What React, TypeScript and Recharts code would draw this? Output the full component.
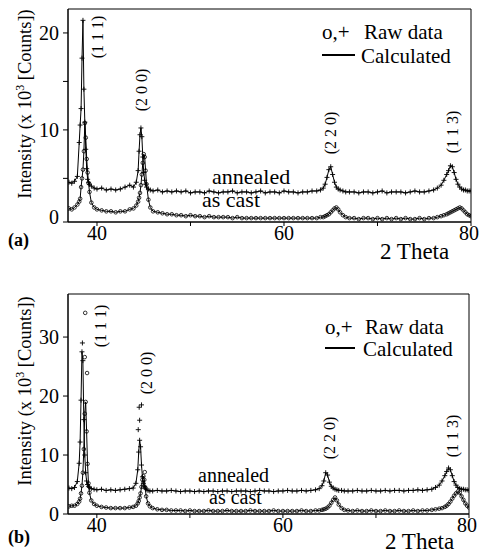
import { ComposedChart, Line, XAxis, YAxis, ReferenceArea } from 'recharts';

// 2 theta grid shared by every series (denser around the peaks)
const theta = [
  37.0, 37.3, 37.6, 37.9, 38.1, 38.2, 38.3, 38.4, 38.5, 38.6,
  38.7, 38.8, 38.9, 39.0, 39.1, 39.2, 39.4, 39.7, 40.0, 40.5,
  41.0, 41.5, 42.0, 42.5, 43.0, 43.5, 43.9, 44.2, 44.4, 44.5,
  44.6, 44.7, 44.8, 44.9, 45.0, 45.1, 45.2, 45.3, 45.5, 45.7,
  46.0, 46.5, 47.0, 47.5, 48.0, 48.5, 49.0, 49.5, 50.0, 50.5,
  51.0, 51.5, 52.0, 52.5, 53.0, 53.5, 54.0, 54.5, 55.0, 55.5,
  56.0, 56.5, 57.0, 57.5, 58.0, 58.5, 59.0, 59.5, 60.0, 60.5,
  61.0, 61.5, 62.0, 62.5, 63.0, 63.5, 63.9, 64.2, 64.4, 64.6,
  64.8, 65.0, 65.2, 65.4, 65.6, 65.8, 66.0, 66.3, 66.6, 67.0,
  67.5, 68.0, 68.5, 69.0, 69.5, 70.0, 70.5, 71.0, 71.5, 72.0,
  72.5, 73.0, 73.5, 74.0, 74.5, 75.0, 75.5, 76.0, 76.4, 76.8,
  77.1, 77.4, 77.6, 77.8, 78.0, 78.2, 78.4, 78.6, 78.8, 79.0,
  79.2, 79.4, 79.6, 79.8, 80.0,
];

// panel (a)
const annealedA = [
  4.6, 4.5, 4.7, 5.2, 8.7, 10.5, 12.2, 17.4, 21.3, 14.2,
  10.8, 8.0, 6.0, 4.9, 4.6, 4.4, 4.2, 4.0, 3.9, 4.0,
  3.8, 3.9, 3.8, 3.9, 4.1, 4.3, 4.1, 4.6, 5.8, 7.8,
  9.5, 10.2, 9.3, 7.2, 5.6, 4.8, 4.4, 4.1, 3.9, 3.8,
  3.7, 3.8, 3.6, 3.7, 3.6, 3.7, 3.6, 3.7, 3.5, 3.6,
  3.6, 3.5, 3.7, 3.6, 3.5, 3.6, 3.6, 3.7, 3.5, 3.6,
  3.6, 3.5, 3.6, 3.7, 3.5, 3.6, 3.6, 3.5, 3.7, 3.6,
  3.6, 3.5, 3.6, 3.6, 3.7, 3.7, 3.8, 4.0, 4.4, 5.1,
  5.9, 6.2, 5.4, 4.6, 4.1, 3.9, 3.8, 3.7, 3.6, 3.6,
  3.6, 3.5, 3.6, 3.6, 3.5, 3.6, 3.7, 3.5, 3.6, 3.6,
  3.6, 3.5, 3.6, 3.7, 3.6, 3.6, 3.7, 3.8, 4.0, 4.3,
  4.8, 5.4, 5.8, 6.3, 6.2, 5.6, 4.9, 4.4, 4.1, 3.9,
  3.8, 3.8, 3.7, 3.7, 3.7,
];
const castA = [
  1.9, 1.8, 2.0, 2.3, 2.6, 2.9, 4.1, 5.0, 5.9, 7.8,
  10.7, 9.2, 7.0, 5.6, 4.5, 3.6, 2.5, 2.0, 1.8, 1.7,
  1.6, 1.6, 1.5, 1.6, 1.6, 1.8, 1.9, 2.2, 2.6, 3.0,
  3.5, 4.3, 5.4, 6.6, 7.5, 7.2, 5.8, 4.4, 2.8, 2.0,
  1.6, 1.5, 1.4, 1.3, 1.3, 1.2, 1.2, 1.1, 1.2, 1.1,
  1.1, 1.0, 1.1, 1.0, 1.0, 1.0, 1.0, 0.9, 1.0, 0.9,
  0.9, 0.9, 0.9, 0.9, 0.9, 0.9, 0.9, 0.9, 0.9, 0.9,
  0.9, 0.9, 0.9, 0.9, 0.9, 0.9, 1.0, 1.0, 1.1, 1.2,
  1.3, 1.5, 1.7, 1.9, 2.0, 1.8, 1.5, 1.2, 1.0, 0.9,
  0.9, 0.8, 0.9, 0.9, 0.8, 0.9, 0.8, 0.9, 0.8, 0.9,
  0.8, 0.9, 0.8, 0.8, 0.9, 0.8, 0.9, 0.9, 1.0, 1.1,
  1.2, 1.3, 1.4, 1.5, 1.6, 1.7, 1.8, 1.9, 2.0, 1.9,
  1.7, 1.5, 1.3, 1.2, 1.1,
];

// panel (b)
const annealedB = [
  4.4, 4.3, 4.5, 5.5, 8.6, 12.2, 19.3, 27.5, 26.0, 16.0,
  10.0, 7.0, 5.6, 5.0, 4.7, 4.5, 4.3, 4.2, 4.1, 4.2,
  4.0, 4.1, 4.0, 4.1, 4.2, 4.3, 4.4, 5.2, 7.5, 10.5,
  12.5, 11.4, 8.3, 6.3, 5.2, 4.7, 4.4, 4.2, 4.0, 3.9,
  3.9, 4.0, 3.9, 3.9, 4.0, 3.9, 3.8, 3.9, 3.9, 3.8,
  3.9, 3.8, 3.9, 3.9, 3.8, 3.9, 3.9, 3.8, 3.9, 3.9,
  3.9, 3.8, 3.9, 4.0, 3.9, 3.9, 3.8, 3.9, 3.9, 4.0,
  3.9, 3.9, 4.0, 3.9, 4.0, 4.1, 4.3, 4.8, 5.6, 7.0,
  6.6, 5.4, 4.7, 4.4, 4.2, 4.1, 4.0, 4.0, 3.9, 3.9,
  3.9, 4.0, 3.9, 3.9, 4.0, 3.9, 3.9, 4.0, 3.9, 4.0,
  4.0, 3.9, 4.0, 4.0, 4.1, 4.0, 4.1, 4.2, 4.5, 4.9,
  5.6, 6.5, 7.2, 7.8, 7.5, 6.5, 5.5, 4.9, 4.5, 4.3,
  4.2, 4.2, 4.1, 4.1, 4.0,
];
const castB = [
  1.3, 1.4, 1.4, 1.7, 2.1, 2.6, 3.5, 4.8, 7.0, 11.0,
  17.0, 19.0, 14.0, 8.5, 5.2, 3.6, 2.3, 1.7, 1.4, 1.2,
  1.1, 1.0, 1.0, 1.0, 1.0, 1.1, 1.2, 1.4, 1.8, 2.2,
  2.8, 3.5, 4.6, 5.8, 6.4, 5.8, 4.5, 3.0, 1.8, 1.3,
  1.0, 0.8, 0.7, 0.7, 0.6, 0.6, 0.6, 0.5, 0.6, 0.5,
  0.5, 0.5, 0.6, 0.5, 0.5, 0.5, 0.6, 0.5, 0.5, 0.5,
  0.5, 0.6, 0.5, 0.5, 0.5, 0.5, 0.6, 0.5, 0.5, 0.5,
  0.5, 0.5, 0.6, 0.5, 0.5, 0.6, 0.6, 0.7, 0.8, 0.9,
  1.1, 1.4, 1.9, 2.4, 2.8, 2.3, 1.6, 1.0, 0.7, 0.6,
  0.5, 0.6, 0.5, 0.5, 0.6, 0.5, 0.5, 0.6, 0.5, 0.5,
  0.6, 0.5, 0.5, 0.6, 0.5, 0.6, 0.6, 0.7, 0.8, 0.9,
  1.0, 1.2, 1.4, 1.7, 2.1, 2.6, 3.1, 3.5, 3.8, 3.6,
  3.0, 2.4, 1.8, 1.4, 1.1,
];

// raw points that stand off the fitted curve in (b)
const annealedRawB = [[38.45, 29.0], [44.45, 14.3], [44.55, 18.1], [44.6, 15.9], [44.8, 18.5]];
const castRawB = [[38.7, 26.6], [38.75, 34.1], [38.95, 23.9], [45.15, 7.1]];

const xTicks = [40, 50, 60, 70, 80];
const yTicksA = [0.5, 5, 10, 15, 20];
const yTicksB = [0, 10, 20, 30];

const FONT = "'Liberation Serif', 'Times New Roman', Tinos, 'DejaVu Serif', serif";

function buildRows(ann: number[], cast: number[], annRaw: number[][], castRaw: number[][]) {
  const rows: any[] = theta.map((x, i) => ({ x, ann: ann[i], cast: cast[i] }));
  annRaw.forEach(([x, y]) => rows.push({ x, annRaw: y }));
  castRaw.forEach(([x, y]) => rows.push({ x, castRaw: y }));
  return rows.sort((a, b) => a.x - b.x);
}

const plusDot = (p: any) => {
  const { cx, cy, index } = p;
  const k = `p-${p.dataKey}-${index}`;
  if (cx == null || cy == null) return <g key={k} />;
  return (
    <path key={k} d={`M${cx - 2.5},${cy}H${cx + 2.5}M${cx},${cy - 2.5}V${cy + 2.5}`}
      stroke="#000" strokeWidth={0.9} fill="none" />
  );
};

const ringDot = (p: any) => {
  const { cx, cy, index } = p;
  const k = `o-${p.dataKey}-${index}`;
  if (cx == null || cy == null) return <g key={k} />;
  return <circle key={k} cx={cx} cy={cy} r={1.8} stroke="#000" strokeWidth={0.8} fill="none" />;
};

// x tick: labels only every 20 degrees, last one kept inside the page
const XTick = (p: any) => {
  const v = p.payload.value;
  if (v % 20 !== 0) return <g />;
  return (
    <text x={v === 80 ? p.x + 8 : p.x} y={p.y + 12} textAnchor={v === 80 ? 'end' : 'middle'}
      fontFamily={FONT} fontSize={20} fill="#000">{v}</text>
  );
};

const YTick = (p: any) => {
  const v = p.payload.value;
  const label = v < 1 ? '0' : v % 10 === 0 ? String(v) : '';
  const dy = v === 0.5 ? 2 : 7;
  return (
    <text x={p.x} y={p.y + dy} textAnchor="end" fontFamily={FONT} fontSize={20} fill="#000">{label}</text>
  );
};

function Panel(props: { rows: any[]; yMin: number; yMax: number; yTicks: number[]; height: number; top: number; bottom: number; right: number }) {
  const { rows, yMin, yMax, yTicks, height, top, bottom, right } = props;
  return (
    <ComposedChart width={479} height={height} data={rows}
      margin={{ top, right, bottom, left: 8 }}>
      <ReferenceArea x1={36.9} x2={80} y1={yMin} y2={yMax} fill="none" stroke="#000" strokeWidth={1} />
      <XAxis type="number" dataKey="x" domain={[36.9, 80]} allowDataOverflow ticks={xTicks} interval={0}
        tick={<XTick />} tickSize={4} height={30}
        axisLine={{ stroke: '#000' }} tickLine={{ stroke: '#000' }} />
      <YAxis type="number" domain={[yMin, yMax]} allowDataOverflow ticks={yTicks} interval={0}
        tick={<YTick />} tickSize={5} tickMargin={4} width={60}
        axisLine={{ stroke: '#000' }} tickLine={{ stroke: '#000' }} />
      <Line dataKey="ann" connectNulls stroke="#000" strokeWidth={1} dot={plusDot} activeDot={false} isAnimationActive={false} />
      <Line dataKey="cast" connectNulls stroke="#000" strokeWidth={1} dot={ringDot} activeDot={false} isAnimationActive={false} />
      <Line dataKey="annRaw" stroke="none" dot={plusDot} activeDot={false} isAnimationActive={false} />
      <Line dataKey="castRaw" stroke="none" dot={ringDot} activeDot={false} isAnimationActive={false} />
    </ComposedChart>
  );
}

function VText({ x, y, size, children }: { x: number; y: number; size: number; children: any }) {
  return (
    <text transform={`translate(${x},${y}) rotate(-90)`} textAnchor="middle" fontSize={size}>
      {children}
    </text>
  );
}

export default function App() {
  const rowsA = buildRows(annealedA, castA, [], []);
  const rowsB = buildRows(annealedB, castB, annealedRawB, castRawB);
  return (
    <div style={{ position: 'absolute', left: 0, top: 0, width: 479, height: 558, background: '#fff', fontFamily: FONT }}>
      <div style={{ position: 'absolute', left: 0, top: 0 }}>
        <Panel rows={rowsA} yMin={0.5} yMax={22.47} yTicks={yTicksA} height={270} top={9} bottom={18} right={8} />
      </div>
      <div style={{ position: 'absolute', left: 0, top: 270 }}>
        <Panel rows={rowsB} yMin={0} yMax={37.3} yTicks={yTicksB} height={288} top={24} bottom={14} right={10} />
      </div>
      <svg width={479} height={558} style={{ position: 'absolute', left: 0, top: 0, pointerEvents: 'none' }}
        fontFamily={FONT} fill="#000">
        {/* panel (a) */}
        <VText x={31} y={104} size={18.5}>
          Intensity (x 10<tspan dy={-7} fontSize={12}>3</tspan><tspan dy={7}> [Counts])</tspan>
        </VText>
        <VText x={103} y={37} size={16}>(1 1 1)</VText>
        <VText x={147} y={90} size={16}>(2 0 0)</VText>
        <VText x={336} y={133} size={16}>(2 2 0)</VText>
        <VText x={458} y={132} size={16}>(1 1 3)</VText>
        <text x={322} y={39} fontSize={21}>o,+</text>
        <text x={364} y={39} fontSize={21}>Raw data</text>
        <line x1={322} x2={355} y1={55} y2={55} stroke="#000" strokeWidth={2} />
        <text x={361} y={63} fontSize={21}>Calculated</text>
        <text x={212} y={184} fontSize={22}>annealed</text>
        <text x={202} y={207} fontSize={22}>as cast</text>
        <text x={8} y={246} fontSize={18} fontWeight="bold">(a)</text>
        <text x={380} y={259} fontSize={23}>2 Theta</text>
        {/* panel (b) */}
        <VText x={31} y={391} size={18.5}>
          Intensity (x 10<tspan dy={-7} fontSize={12}>3</tspan><tspan dy={7}> [Counts])</tspan>
        </VText>
        <VText x={106} y={326} size={16}>(1 1 1)</VText>
        <VText x={152} y={373} size={16}>(2 0 0)</VText>
        <VText x={335} y={438} size={16}>(2 2 0)</VText>
        <VText x={458} y={436} size={16}>(1 1 3)</VText>
        <text x={325} y={334} fontSize={21}>o,+</text>
        <text x={365} y={334} fontSize={21}>Raw data</text>
        <line x1={325} x2={355} y1={348} y2={348} stroke="#000" strokeWidth={2} />
        <text x={363} y={356} fontSize={21}>Calculated</text>
        <text x={198} y={482} fontSize={20}>annealed</text>
        <text x={209} y={504} fontSize={20}>as cast</text>
        <text x={8} y={543} fontSize={18} fontWeight="bold">(b)</text>
        <text x={385} y={549} fontSize={23}>2 Theta</text>
      </svg>
    </div>
  );
}
